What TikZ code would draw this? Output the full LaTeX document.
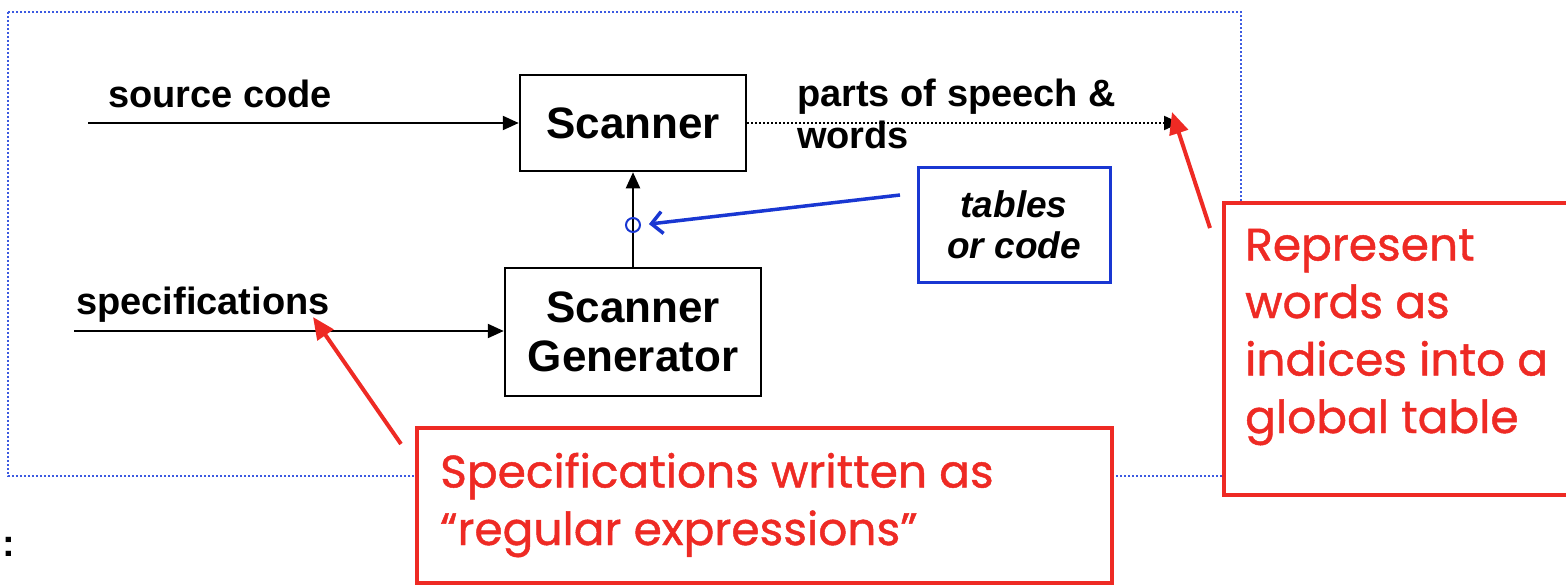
\documentclass[tikz,border=0pt]{standalone}
\usepackage{fontspec}
\setmainfont{Liberation Sans}
\newfontfamily\notefont{Poppins}[FakeBold=1]
\usetikzlibrary{arrows.meta}
\definecolor{notered}{RGB}{238,42,36}
\definecolor{frameblue}{RGB}{60,90,225}
\definecolor{tagblue}{RGB}{25,55,210}

\begin{document}
\begin{tikzpicture}[x=1pt,y=-1pt,
  block/.style={draw, line width=2.5pt, inner sep=0pt, align=center,
    font=\fontsize{44}{49}\selectfont\bfseries},
  lbl/.style={inner sep=0pt, anchor=base west, font=\fontsize{38}{42}\selectfont\bfseries},
  flow/.style={line width=2.2pt, -{Triangle[length=16pt,width=14pt]}},
  note/.style={draw=notered, fill=white, line width=4pt},
  notetext/.style={text=notered, inner sep=0pt, anchor=base west, align=left,
    font=\notefont\fontsize{45.5}{57.5}\selectfont},
  pointer/.style={draw=notered, line width=4pt, -{Triangle[length=22pt,width=19pt]}}]

\useasboundingbox (0,0) rectangle (1566,584);

% dotted frame around the scanner part
\draw[frameblue, line width=2pt, dotted] (8,12) rectangle (1241,476);

% the two blocks
\node[block, minimum width=226pt, minimum height=96pt] (scan) at (633,123) {Scanner};
\node[block, minimum width=256pt, minimum height=128pt] (gen) at (633,332) {Scanner\\Generator};

% inputs
\coordinate (srcin) at (88,123);
\coordinate (specin) at (74,331);
\draw[flow] (srcin) -- (scan.west);
\draw[flow] (specin) -- (specin -| gen.west);
\node[lbl] (srclbl) at (108,107) {source code};
\node[lbl] (speclbl) at (76,314) {specifications};

% output of the scanner (base anchor of a two-line label = last line)
\coordinate (out) at (1180,123);
\draw[line width=2pt, dotted, -{Triangle[length=16pt,width=14pt]}] (scan.east) -- (out);
\node[lbl, align=left] (outlbl) at (797,148) {parts of speech \&\\words};

% generator feeds the scanner
\draw[flow] (gen.north) -- (scan.south);
\node[draw=tagblue, line width=2pt, circle, minimum size=14pt, inner sep=0pt] (tap) at (633,225) {};

% what the generator produces
\node[draw=tagblue, line width=3pt, minimum width=192pt, minimum height=115pt, inner sep=0pt,
  align=center, font=\fontsize{37}{41}\selectfont\bfseries\itshape] (tag) at (1014,225) {tables\\or code};
\coordinate (tagtail) at (900,195);
\draw[tagblue, line width=3.5pt, shorten >=8pt, -{Straight Barb[length=11pt,width=22pt]}] (tagtail) -- (tap.east);

% notes, drawn over the frame
\draw[note] (1224,203) rectangle (1580,495);
\draw[note] (417,428) rectangle (1112,583);
\node[notetext] (repnote) at (1245,433) {Represent\\words as\\indices into a\\global table};
\node[notetext] (specnote) at (440,545) {Specifications written as\\\textquotedblleft regular expressions\textquotedblright};

\coordinate (reptail) at (1210,228);
\coordinate (reptip) at (1172,112);
\coordinate (spectail) at (401,444);
\coordinate (spectip) at (313,317);
\draw[pointer] (reptail) -- (reptip);
\draw[pointer] (spectail) -- (spectip);

\node[inner sep=0pt, font=\fontsize{38}{42}\selectfont\bfseries] (colon) at (9,547) {:};
\end{tikzpicture}
\end{document}
